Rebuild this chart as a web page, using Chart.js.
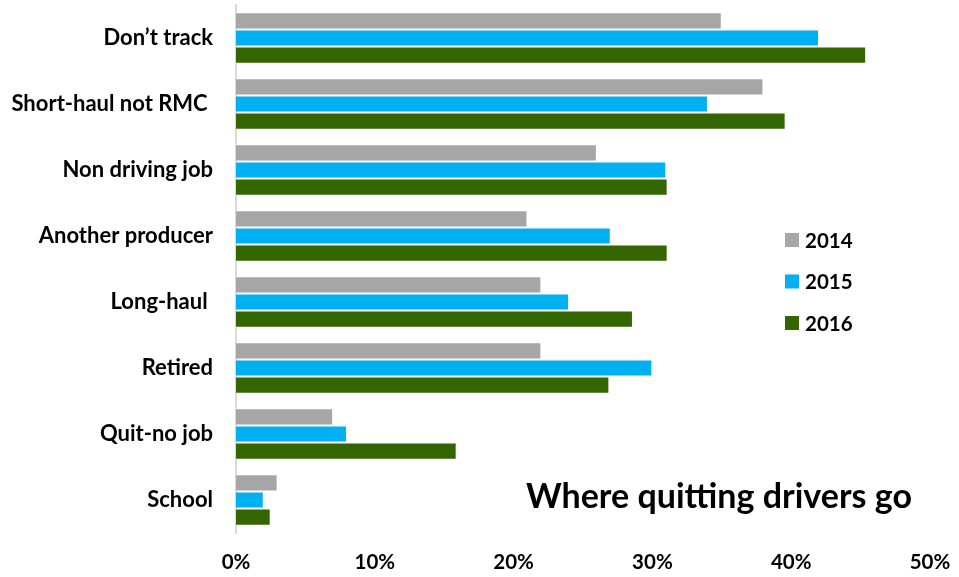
<!DOCTYPE html>
<html>
<head>
<meta charset="utf-8">
<script src="https://cdn.jsdelivr.net/npm/chart.js@4/dist/chart.umd.min.js"></script>
<style>
  html, body { margin: 0; padding: 0; background: #fff; overflow: hidden; }
  canvas { display: block; }
</style>
</head>
<body>
<canvas id="quits" width="959" height="577"></canvas>
<script>
const categories = ['Don\u2019t track', 'Short-haul not RMC ', 'Non driving job', 'Another producer', 'Long-haul ', 'Retired', 'Quit-no job', 'School'];
const years = ['2014', '2015', '2016'];
const share2014 = [35, 38, 26, 21, 22, 22, 7, 3];
const share2015 = [42, 34, 31, 27, 24, 30, 8, 2];
const share2016 = [45.4, 39.6, 31.1, 31.1, 28.6, 26.9, 15.9, 2.5];
const xTicks = [0, 10, 20, 30, 40, 50];
const colors = ['#A6A6A6', '#00B0F0', '#336600'];
const chartTitle = 'Where quitting drivers go';

const FONT = 'Lato, "Open Sans", "Liberation Sans", sans-serif';

// legend + title drawn on the canvas, right side of the plot
const sideText = {
  id: 'sideText',
  afterDraw(chart) {
    const ctx = chart.ctx;
    ctx.save();
    ctx.font = 'bold 20.5px ' + FONT;
    ctx.textBaseline = 'middle';
    ctx.textAlign = 'left';
    chart.data.datasets.forEach((ds, i) => {
      const y = 240 + i * 41.5;
      ctx.fillStyle = ds.backgroundColor;
      ctx.fillRect(785, y - 7, 14, 14);
      ctx.fillStyle = '#000';
      ctx.fillText(ds.label, 805, y + 1);
    });
    ctx.font = 'bold 34px ' + FONT;
    ctx.fillText(chartTitle, 526, 497);
    ctx.restore();
  }
};

new Chart(document.getElementById('quits'), {
  type: 'bar',
  data: {
    labels: categories,
    datasets: [
      { label: years[0], data: share2014, backgroundColor: colors[0] },
      { label: years[1], data: share2015, backgroundColor: colors[1] },
      { label: years[2], data: share2016, backgroundColor: colors[2] }
    ].map(d => Object.assign(d, { borderColor: 'rgba(255,255,255,0.6)', borderWidth: 1, barPercentage: 1, categoryPercentage: 0.78 }))
  },
  options: {
    indexAxis: 'y',
    responsive: false,
    animation: false,
    layout: { padding: { top: 5, right: 29, bottom: 0, left: 0 } },
    plugins: {
      legend: { display: false },
      tooltip: { enabled: false }
    },
    scales: {
      x: {
        min: 0,
        max: 50,
        afterBuildTicks: axis => { axis.ticks = xTicks.map(v => ({ value: v })); },
        grid: { display: false, drawTicks: false },
        border: { display: false },
        afterFit: axis => {
          axis.height = 44;
          axis.paddingLeft = 0;
          axis.paddingRight = 0;
        },
        ticks: {
          padding: 17,
          color: '#000',
          font: { family: FONT, size: 20.5, weight: 'bold' },
          callback: v => v + '%'
        }
      },
      y: {
        grid: { display: false, drawTicks: false },
        border: { display: true, color: '#D9D9D9', width: 2 },
        afterFit: axis => {
          axis.width = 236;
          // label padding should not push the plot area down
          axis.paddingTop = 0;
          axis.paddingBottom = 0;
        },
        ticks: {
          padding: 23,
          color: '#000',
          font: { family: FONT, size: 22, weight: 'bold' }
        }
      }
    }
  },
  plugins: [sideText]
});
</script>
</body>
</html>
